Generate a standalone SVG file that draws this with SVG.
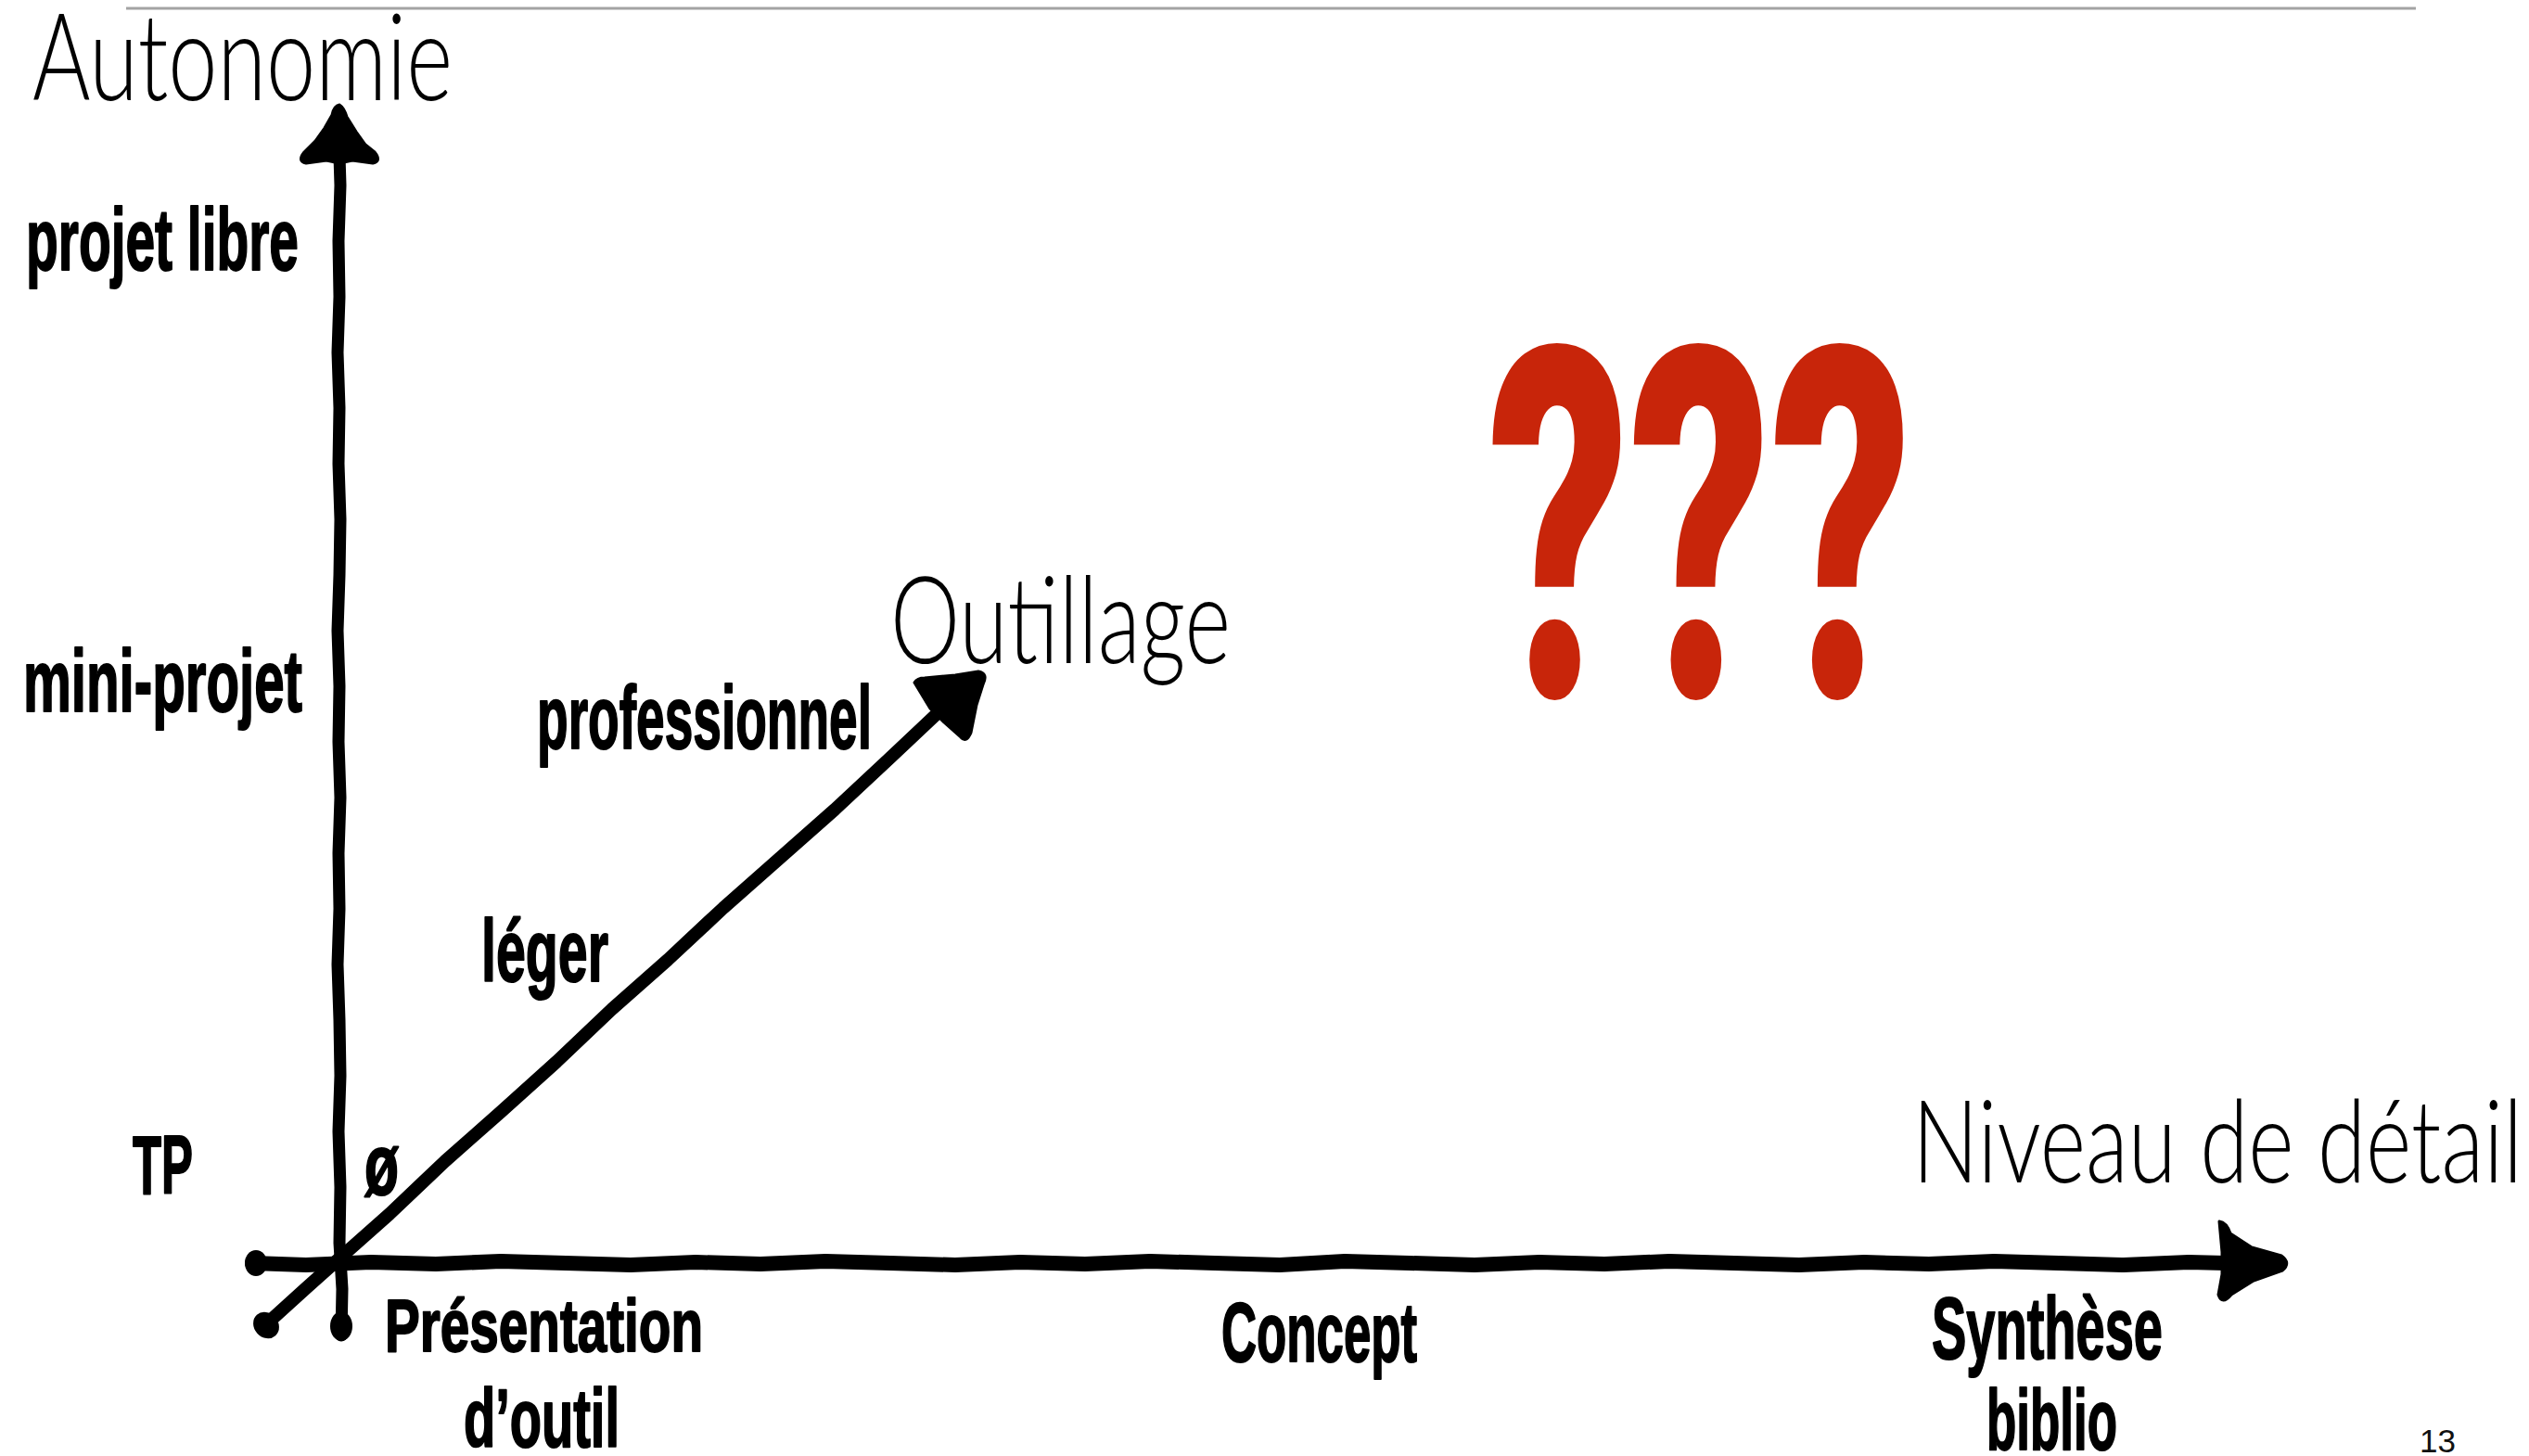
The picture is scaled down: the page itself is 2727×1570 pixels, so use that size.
<svg xmlns="http://www.w3.org/2000/svg" width="2727" height="1570" viewBox="0 0 2727 1570">
<style>
.lt{font-family:Lato,"Open Sans","Liberation Sans",sans-serif;font-weight:300;fill:#000}
.bd{font-family:"Liberation Sans",Arial,sans-serif;font-weight:700;fill:#000;stroke:#000;stroke-width:2;stroke-linejoin:round}
.pg{font-family:"Liberation Sans",Arial,sans-serif;font-weight:400;fill:#111}
.q{font-family:Roboto,"Open Sans","Liberation Sans",sans-serif;font-weight:900;fill:#C8250A}
.ax{fill:none;stroke:#000;stroke-linecap:round;stroke-linejoin:round}
.hd{fill:#000;stroke:#000;stroke-width:3;stroke-linejoin:round}
</style>
<rect width="2727" height="1570" fill="#fff"/>
<line x1="136" y1="9" x2="2605" y2="9" stroke="#a3a3a3" stroke-width="3"/>

<g id="connectors">
  <!-- vertical axis: Autonomie -->
  <path class="ax" stroke-width="13" d="M368,1440 L369,1390 L366,1340 L367,1280 L365,1220 L367,1160 L366,1100 L364,1040 L366,980 L365,920 L367,860 L365,800 L366,740 L364,680 L366,620 L367,560 L365,500 L366,440 L364,380 L366,320 L365,260 L367,200 L366,168"/>
  <ellipse cx="368" cy="1430" rx="12" ry="16"/>
  <path class="hd" d="M366,113 Q371,116 374,126 L384,142 L394,156 L404,164 Q412,174 402,176 L380,173 L366,176 L352,173 L330,176 Q320,174 328,164 L340,152 L350,138 L358,124 Q360,114 366,113 Z"/>
  <!-- horizontal axis: Niveau de détail -->
  <path class="ax" stroke-width="16" d="M272,1362 L330,1364 L400,1361 L470,1363 L540,1360 L610,1362 L680,1364 L750,1361 L820,1363 L890,1360 L960,1362 L1030,1364 L1100,1361 L1170,1363 L1240,1360 L1310,1362 L1380,1364 L1450,1360 L1520,1362 L1590,1364 L1660,1361 L1730,1363 L1800,1360 L1870,1362 L1940,1364 L2010,1361 L2080,1363 L2150,1360 L2220,1362 L2290,1364 L2360,1361 L2400,1362"/>
  <ellipse cx="276" cy="1362" rx="12" ry="14"/>
  <path class="hd" d="M2393,1317 Q2401,1318 2405,1330 L2428,1345 L2460,1354 Q2471,1362 2461,1370 L2430,1381 L2406,1396 Q2396,1408 2392,1396 L2396,1374 L2396,1350 Z"/>
  <!-- diagonal axis: Outillage -->
  <path class="ax" stroke-width="14" d="M287,1428 L330,1389 L367,1356 L420,1309 L480,1252 L540,1199 L600,1145 L660,1088 L720,1035 L780,979 L840,926 L900,873 L960,817 L1012,768"/>
  <ellipse cx="287" cy="1429" rx="13" ry="15" transform="rotate(-42 287 1429)"/>
  <path class="hd" d="M986,736 Q989,731 997,731 L1030,728 L1055,724 Q1066,726 1060,738 L1053,760 L1047,790 Q1042,802 1036,795 L1018,779 L1003,764 Z"/>
</g>

<g id="node-autonomie"><text class="lt" x="35" y="108" font-size="130" textLength="453" lengthAdjust="spacingAndGlyphs">Autonomie</text></g>
<g id="node-outillage"><text class="lt" x="960" y="715" font-size="130" textLength="367" lengthAdjust="spacingAndGlyphs">Outillage</text></g>
<g id="node-niveau"><text class="lt" x="2062" y="1275" font-size="124" textLength="658" lengthAdjust="spacingAndGlyphs">Niveau de détail</text></g>

<g id="node-projet-libre"><text class="bd" x="28" y="291" font-size="94" textLength="294" lengthAdjust="spacingAndGlyphs">projet libre</text></g>
<g id="node-mini-projet"><text class="bd" x="25" y="767" font-size="94" textLength="301" lengthAdjust="spacingAndGlyphs">mini-projet</text></g>
<g id="node-tp"><text class="bd" x="143" y="1287" font-size="89" textLength="65" lengthAdjust="spacingAndGlyphs">TP</text></g>
<g id="node-professionnel"><text class="bd" x="579" y="807" font-size="96" textLength="361" lengthAdjust="spacingAndGlyphs">professionnel</text></g>
<g id="node-leger"><text class="bd" x="519" y="1058" font-size="95" textLength="137" lengthAdjust="spacingAndGlyphs">léger</text></g>
<g id="node-vide"><text class="bd" x="393" y="1288" font-size="92" textLength="37" lengthAdjust="spacingAndGlyphs">ø</text></g>
<g id="node-presentation">
  <text class="bd" x="415" y="1457" font-size="80" textLength="343" lengthAdjust="spacingAndGlyphs">Présentation</text>
  <text class="bd" x="500" y="1560" font-size="89" textLength="168" lengthAdjust="spacingAndGlyphs">d’outil</text>
</g>
<g id="node-concept"><text class="bd" x="1317" y="1468" font-size="91" textLength="211" lengthAdjust="spacingAndGlyphs">Concept</text></g>
<g id="node-synthese">
  <text class="bd" x="2083" y="1465" font-size="94" textLength="249" lengthAdjust="spacingAndGlyphs">Synthèse</text>
  <text class="bd" x="2142" y="1563" font-size="93" textLength="141" lengthAdjust="spacingAndGlyphs">biblio</text>
</g>
<g id="node-questions"><text class="q" x="1605" y="752" font-size="530" textLength="457" lengthAdjust="spacingAndGlyphs">???</text></g>
<g id="page-number"><text class="pg" x="2609" y="1566" font-size="35" textLength="39" lengthAdjust="spacingAndGlyphs">13</text></g>
</svg>
